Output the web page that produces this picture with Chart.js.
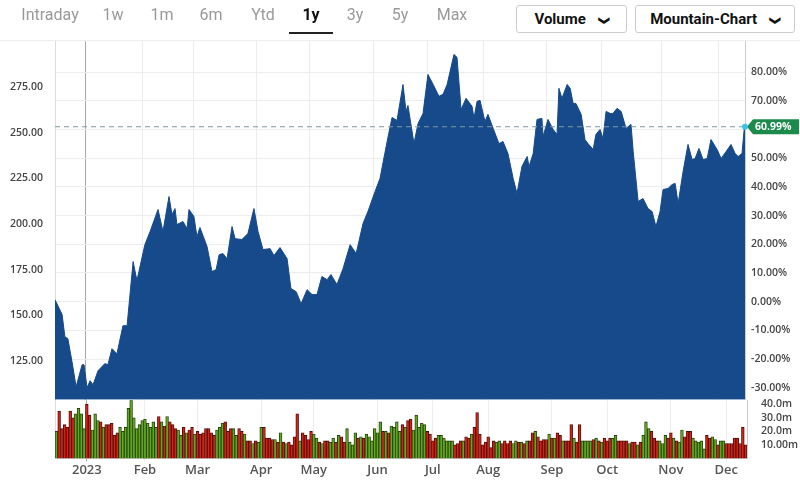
<!DOCTYPE html>
<html lang="en">
<head>
<meta charset="UTF-8">
<title>1y Mountain Chart</title>
<script src="https://cdn.jsdelivr.net/npm/chart.js"></script>
<style>
  body { margin: 0; width: 800px; height: 483px; background: #fff; font-family: "Open Sans", sans-serif; position: relative; overflow: hidden; }
  .tabs { position: absolute; top: 0; left: 0; height: 36px; width: 500px; z-index: 2; }
  .tab { position: absolute; top: 5px; font-family: "Liberation Sans Narrow", "Roboto", sans-serif; font-size: 16px; color: #999; transform: translateX(-50%); }
  .tab.on { color: #111; font-weight: bold; }
  .underline { position: absolute; left: 289px; top: 32px; width: 44px; height: 2px; background: #222; }
  .btn { position: absolute; top: 5px; height: 28px; z-index: 2; background: #fff; border: 1px solid #ccc; border-radius: 3px; font-family: "Liberation Sans Narrow", "Roboto", sans-serif; font-size: 15px; font-weight: bold; color: #111; line-height: 27px; text-align: center; box-sizing: border-box; }
  .btn b { display: inline-block; font-size: 11px; margin-left: 10px; transform: rotate(90deg); }
  .sep { position: absolute; top: 40px; left: 0; width: 800px; height: 1px; background: #eee; }
  #wrapMain { position: absolute; left: 0; top: 29px; width: 800px; height: 383px; z-index: 1; }
  #wrapVol { position: absolute; left: 0; top: 388px; width: 800px; height: 91px; z-index: 0; }
</style>
</head>
<body>
<div class="tabs">
  <span class="tab" style="left:50px">Intraday</span>
  <span class="tab" style="left:113px">1w</span>
  <span class="tab" style="left:162px">1m</span>
  <span class="tab" style="left:211px">6m</span>
  <span class="tab" style="left:263px">Ytd</span>
  <span class="tab on" style="left:311px">1y</span>
  <span class="tab" style="left:355px">3y</span>
  <span class="tab" style="left:400px">5y</span>
  <span class="tab" style="left:452px">Max</span>
  <div class="underline"></div>
</div>
<div class="btn" style="left:516px;width:111px">Volume <b>&#10095;</b></div>
<div class="btn" style="left:635px;width:160px">Mountain-Chart <b>&#10095;</b></div>
<div class="sep"></div>
<div id="wrapMain"><canvas id="priceChart"></canvas></div>
<div id="wrapVol"><canvas id="volChart"></canvas></div>

<script>
// trading-day position and closing price
const priceDays = [0, 2.6, 3.6, 4.7, 6.2, 7.7, 9.9, 10.6, 11.7, 12.8, 13.9, 15.7, 18.2, 19.3, 20.8, 22.6, 24.8, 26.3, 28.5, 29.9,
  32.8, 34.7, 37.6, 39.4, 41.6, 42.7, 43.8, 44.5, 46.7, 48.2, 48.9, 50.7, 51.8, 52.9, 55.5, 57.3, 58.8, 59.9, 61.3, 62.8,
  64.6, 65.7, 68.2, 70.4, 72.6, 74.1, 75.9, 78.5, 79.9, 82.1, 84.7, 86.1, 88.0, 89.8, 92.0, 93.8, 95.6, 97.4, 99.3, 100.7,
  102.9, 105.1, 107.7, 109.9, 112.4, 114.2, 116.8, 118.6, 121.2, 123.0, 124.8, 127.0, 128.1, 128.8, 131.0, 132.5, 134.3, 136.1, 138.0, 140.1,
  141.6, 143.1, 145.6, 146.7, 148.2, 150.0, 152.2, 152.9, 154.0, 155.1, 156.9, 158.0, 159.9, 162.0, 163.5, 165.3, 167.2, 168.6, 170.4, 172.3,
  173.0, 174.5, 175.9, 177.7, 178.1, 179.9, 181.8, 183.2, 183.9, 185.0, 186.9, 188.0, 189.1, 190.1, 192.0, 193.4, 194.5, 196.4, 197.4, 198.9,
  200.0, 201.1, 202.6, 203.6, 205.1, 206.6, 208.4, 210.2, 211.0, 212.8, 214.6, 216.4, 217.9, 219.3, 220.8, 221.9, 223.7, 225.2, 226.3, 227.4,
  229.2, 231.0, 232.5, 233.6, 235.0, 236.5, 238.0, 239.4, 241.6, 243.1, 244.9, 246.7, 248.2, 249.3, 250.7, 251.5, 251.8];
const prices = [158.5, 150.3, 138.2, 137.1, 124.5, 110.7, 122.8, 122.8, 110.2, 114.0, 111.8, 119.5, 123.4, 122.8, 131.6, 128.8, 144.2, 144.2, 179.4, 169.0,
  188.7, 195.9, 208.0, 195.9, 215.1, 205.2, 208.5, 199.7, 201.4, 197.5, 208.0, 204.1, 193.1, 198.1, 187.6, 173.9, 175.0, 183.2, 183.8, 181.0,
  198.6, 192.0, 191.5, 194.8, 208.5, 195.9, 186.0, 186.5, 182.7, 187.1, 181.0, 164.6, 162.9, 156.3, 164.0, 161.3, 161.3, 171.2, 169.5, 172.3,
  166.8, 175.5, 188.7, 183.8, 200.3, 206.9, 217.9, 225.0, 245.3, 258.5, 256.9, 276.6, 261.8, 265.1, 244.2, 255.2, 260.7, 282.1, 276.6, 270.1,
  271.2, 276.6, 293.1, 291.5, 262.9, 269.0, 264.6, 258.0, 267.3, 267.9, 256.3, 260.2, 252.5, 244.2, 245.3, 238.7, 225.0, 216.8, 231.6, 237.1,
  231.6, 238.7, 257.4, 258.0, 248.1, 257.4, 251.9, 249.2, 274.5, 269.0, 276.6, 274.5, 266.2, 266.2, 260.2, 246.4, 244.2, 240.9, 249.2, 251.9,
  247.0, 261.8, 260.7, 260.7, 263.5, 261.8, 252.5, 254.7, 239.8, 212.4, 214.0, 208.5, 206.9, 198.6, 206.9, 219.0, 219.5, 221.7, 222.3, 211.3,
  228.8, 243.7, 235.4, 236.0, 241.5, 235.4, 236.0, 246.4, 240.9, 236.0, 239.8, 243.7, 238.7, 237.1, 238.7, 252.0, 253.4];

// daily volume in millions, and whether the day closed up (g) or down (r)
const volumes = [20, 35, 22, 25, 23, 35, 30, 33, 37, 33, 22, 40, 32, 21, 33, 28, 27, 23, 25, 25, 26, 17, 19, 23, 20, 23, 37, 43, 30, 22, 25, 28,
  29, 26, 23, 27, 23, 31, 27, 24, 31, 27, 25, 22, 21, 17, 23, 19, 21, 23, 18, 20, 18, 19, 22, 22, 19, 17, 21, 23, 26, 27, 20, 22,
  22, 17, 22, 20, 18, 13, 13, 11, 13, 12, 23, 23, 15, 15, 14, 14, 12, 19, 12, 11, 12, 10, 16, 33, 13, 19, 17, 14, 20, 18, 15, 12,
  11, 13, 13, 12, 15, 12, 17, 16, 12, 22, 12, 10, 19, 15, 16, 15, 18, 16, 13, 22, 19, 27, 20, 20, 19, 24, 23, 27, 20, 25, 23, 28,
  29, 21, 32, 23, 26, 25, 20, 18, 13, 15, 17, 17, 15, 13, 13, 13, 10, 11, 13, 13, 16, 15, 18, 23, 34, 18, 10, 12, 16, 8, 13, 12,
  13, 11, 13, 11, 13, 11, 13, 12, 12, 11, 13, 13, 19, 20, 16, 13, 14, 14, 18, 15, 15, 19, 17, 13, 13, 13, 25, 15, 12, 25, 13, 13,
  13, 13, 14, 15, 13, 12, 15, 13, 15, 15, 17, 13, 13, 13, 13, 11, 12, 12, 10, 12, 17, 27, 22, 20, 15, 13, 13, 11, 17, 15, 19, 15,
  13, 12, 21, 16, 20, 20, 15, 13, 12, 13, 7, 17, 15, 16, 14, 10, 13, 13, 11, 11, 11, 15, 15, 11, 23, 10];
const volColors = 'grrrrrrggggrrgggrgrrrrrggggggggggggggrgrgrrrggrgrrgrrrrrrrgggrr' +
  'rggrrgrrgrggrrrrgrgrgrrrrgrrrrggrgrrggrgrrggggrgrggggggrgrgg' +
  'ggrgrrgggggrrrrggggggrrrgrrgrrrrrrrrggrrrrggrgrgrrgrrrrgrgrr' +
  'grrrgrrggggrgrgrrrggrrrrgrrgrgggrrrgggrrgrggrrrgggggrrggrgg';

// month labels and their trading-day positions
const monthLabels = ['2023', 'Feb', 'Mar', 'Apr', 'May', 'Jun', 'Jul', 'Aug', 'Sep', 'Oct', 'Nov', 'Dec'];
const monthDays = [11.3, 32.1, 50.7, 73.7, 92.7, 116.1, 136.1, 156.2, 179.2, 199.3, 221.5, 242.0];
const priceTicks = [125, 150, 175, 200, 225, 250, 275];
const volTicks = [10, 20, 30, 40];
const volTickLabels = ['10.00m', '20.0m', '30.0m', '40.0m'];

const lastPrice = prices[prices.length - 1];
const lastPct = 60.99;
const basePrice = lastPrice / (1 + lastPct / 100);
const yMin = 103.6, yMax = 300.3;
const pct = v => (v / basePrice - 1) * 100;

const axisFont = { family: 'Open Sans', size: 10.5, weight: '600' };
const gridColor = '#ececec';

// dashed last-price line and the green badge on the right axis
const lastLine = {
  id: 'lastLine',
  afterDatasetsDraw(chart) {
    const ctx = chart.ctx, area = chart.chartArea;
    const y = chart.scales.y.getPixelForValue(lastPrice);
    ctx.save();
    ctx.strokeStyle = '#7f9aa3';
    ctx.setLineDash([5, 4]);
    ctx.lineWidth = 1;
    ctx.beginPath();
    ctx.moveTo(area.left, y);
    ctx.lineTo(area.right, y);
    ctx.stroke();
    ctx.setLineDash([]);
    ctx.fillStyle = '#1b8a4a';
    const x0 = area.right + 2, w = 52, h = 15;
    ctx.beginPath();
    ctx.moveTo(x0, y);
    ctx.lineTo(x0 + 6, y - h / 2);
    ctx.lineTo(x0 + w, y - h / 2);
    ctx.lineTo(x0 + w, y + h / 2);
    ctx.lineTo(x0 + 6, y + h / 2);
    ctx.closePath();
    ctx.fill();
    ctx.fillStyle = '#fff';
    ctx.font = '700 10.5px "Open Sans"';
    ctx.textBaseline = 'middle';
    ctx.fillText(lastPct.toFixed(2) + '%', x0 + 8, y + 0.5);
    ctx.fillStyle = '#3ec1e6';
    ctx.beginPath();
    ctx.arc(area.right, y, 3, 0, Math.PI * 2);
    ctx.fill();
    ctx.restore();
  }
};

const monthGrid = ctx => ctx.tick && Math.abs(ctx.tick.value - monthDays[0]) < 0.01 ? '#a8a8a8' : gridColor;

new Chart(document.getElementById('priceChart'), {
  type: 'line',
  data: {
    datasets: [{
      data: priceDays.map((d, i) => ({ x: d, y: prices[i] })),
      fill: 'start',
      backgroundColor: '#174a8a',
      borderColor: '#174a8a',
      borderWidth: 1,
      pointRadius: 0,
      tension: 0
    }]
  },
  options: {
    responsive: true,
    maintainAspectRatio: false,
    animation: false,
    layout: { padding: 0 },
    plugins: { legend: { display: false }, tooltip: { enabled: false } },
    scales: {
      x: {
        type: 'linear', min: 0, max: 251.8,
        afterBuildTicks: s => { s.ticks = monthDays.map(v => ({ value: v })); },
        afterFit: s => { s.height = 0; },
        ticks: { display: false },
        grid: { color: monthGrid, drawTicks: false },
        border: { display: false }
      },
      y: {
        position: 'left', min: yMin, max: yMax,
        afterBuildTicks: s => { s.ticks = priceTicks.map(v => ({ value: v })); },
        afterFit: s => { s.width = 55; },
        ticks: { color: '#444', font: axisFont, callback: v => v.toFixed(2), padding: 4 },
        grid: { display: false },
        border: { display: true, color: '#ddd' }
      },
      y2: {
        position: 'right', min: pct(yMin), max: pct(yMax),
        afterBuildTicks: s => {
          const t = [];
          for (let v = -30; v <= 80; v += 10) t.push({ value: v });
          s.ticks = t;
        },
        afterFit: s => { s.width = 55; },
        ticks: { color: '#444', font: axisFont, callback: v => v.toFixed(2) + '%', padding: 6 },
        grid: { color: gridColor, drawTicks: false },
        border: { display: true, color: '#ccc' }
      }
    }
  },
  plugins: [lastLine]
});

new Chart(document.getElementById('volChart'), {
  type: 'bar',
  data: {
    labels: volumes.map((v, i) => i),
    datasets: [{
      data: volumes,
      backgroundColor: volumes.map((v, i) => volColors[i] === 'g' ? '#62a81e' : '#d42216'),
      borderColor: volumes.map((v, i) => volColors[i] === 'g' ? '#24420c' : '#4a0d08'),
      borderWidth: 0.9,
      categoryPercentage: 1,
      barPercentage: 1
    }]
  },
  options: {
    responsive: true,
    maintainAspectRatio: false,
    animation: false,
    layout: { padding: 0 },
    plugins: { legend: { display: false }, tooltip: { enabled: false } },
    scales: {
      x: {
        afterBuildTicks: s => { s.ticks = monthDays.map(v => ({ value: Math.round(v) })); },
        ticks: {
          autoSkip: false, maxRotation: 0, color: '#555',
          font: { family: 'Open Sans', size: 13, weight: '600' },
          callback: (v, i) => monthLabels[i], padding: 1
        },
        grid: { offset: false, color: ctx => ctx.index === 0 ? '#a8a8a8' : gridColor, drawTicks: true, tickLength: 3 },
        border: { display: true, color: '#ccc' }
      },
      y: {
        position: 'left', min: 0, max: 43,
        afterFit: s => { s.width = 55; },
        ticks: { display: false },
        grid: { display: false },
        border: { display: true, color: '#ddd' }
      },
      y2: {
        position: 'right', min: 0, max: 43,
        afterBuildTicks: s => { s.ticks = volTicks.map(v => ({ value: v })); },
        afterFit: s => { s.width = 53; },
        ticks: { color: '#444', font: axisFont, callback: (v, i) => volTickLabels[i], padding: 6 },
        grid: { display: false },
        border: { display: true, color: '#ccc' }
      }
    }
  }
});
</script>
</body>
</html>
